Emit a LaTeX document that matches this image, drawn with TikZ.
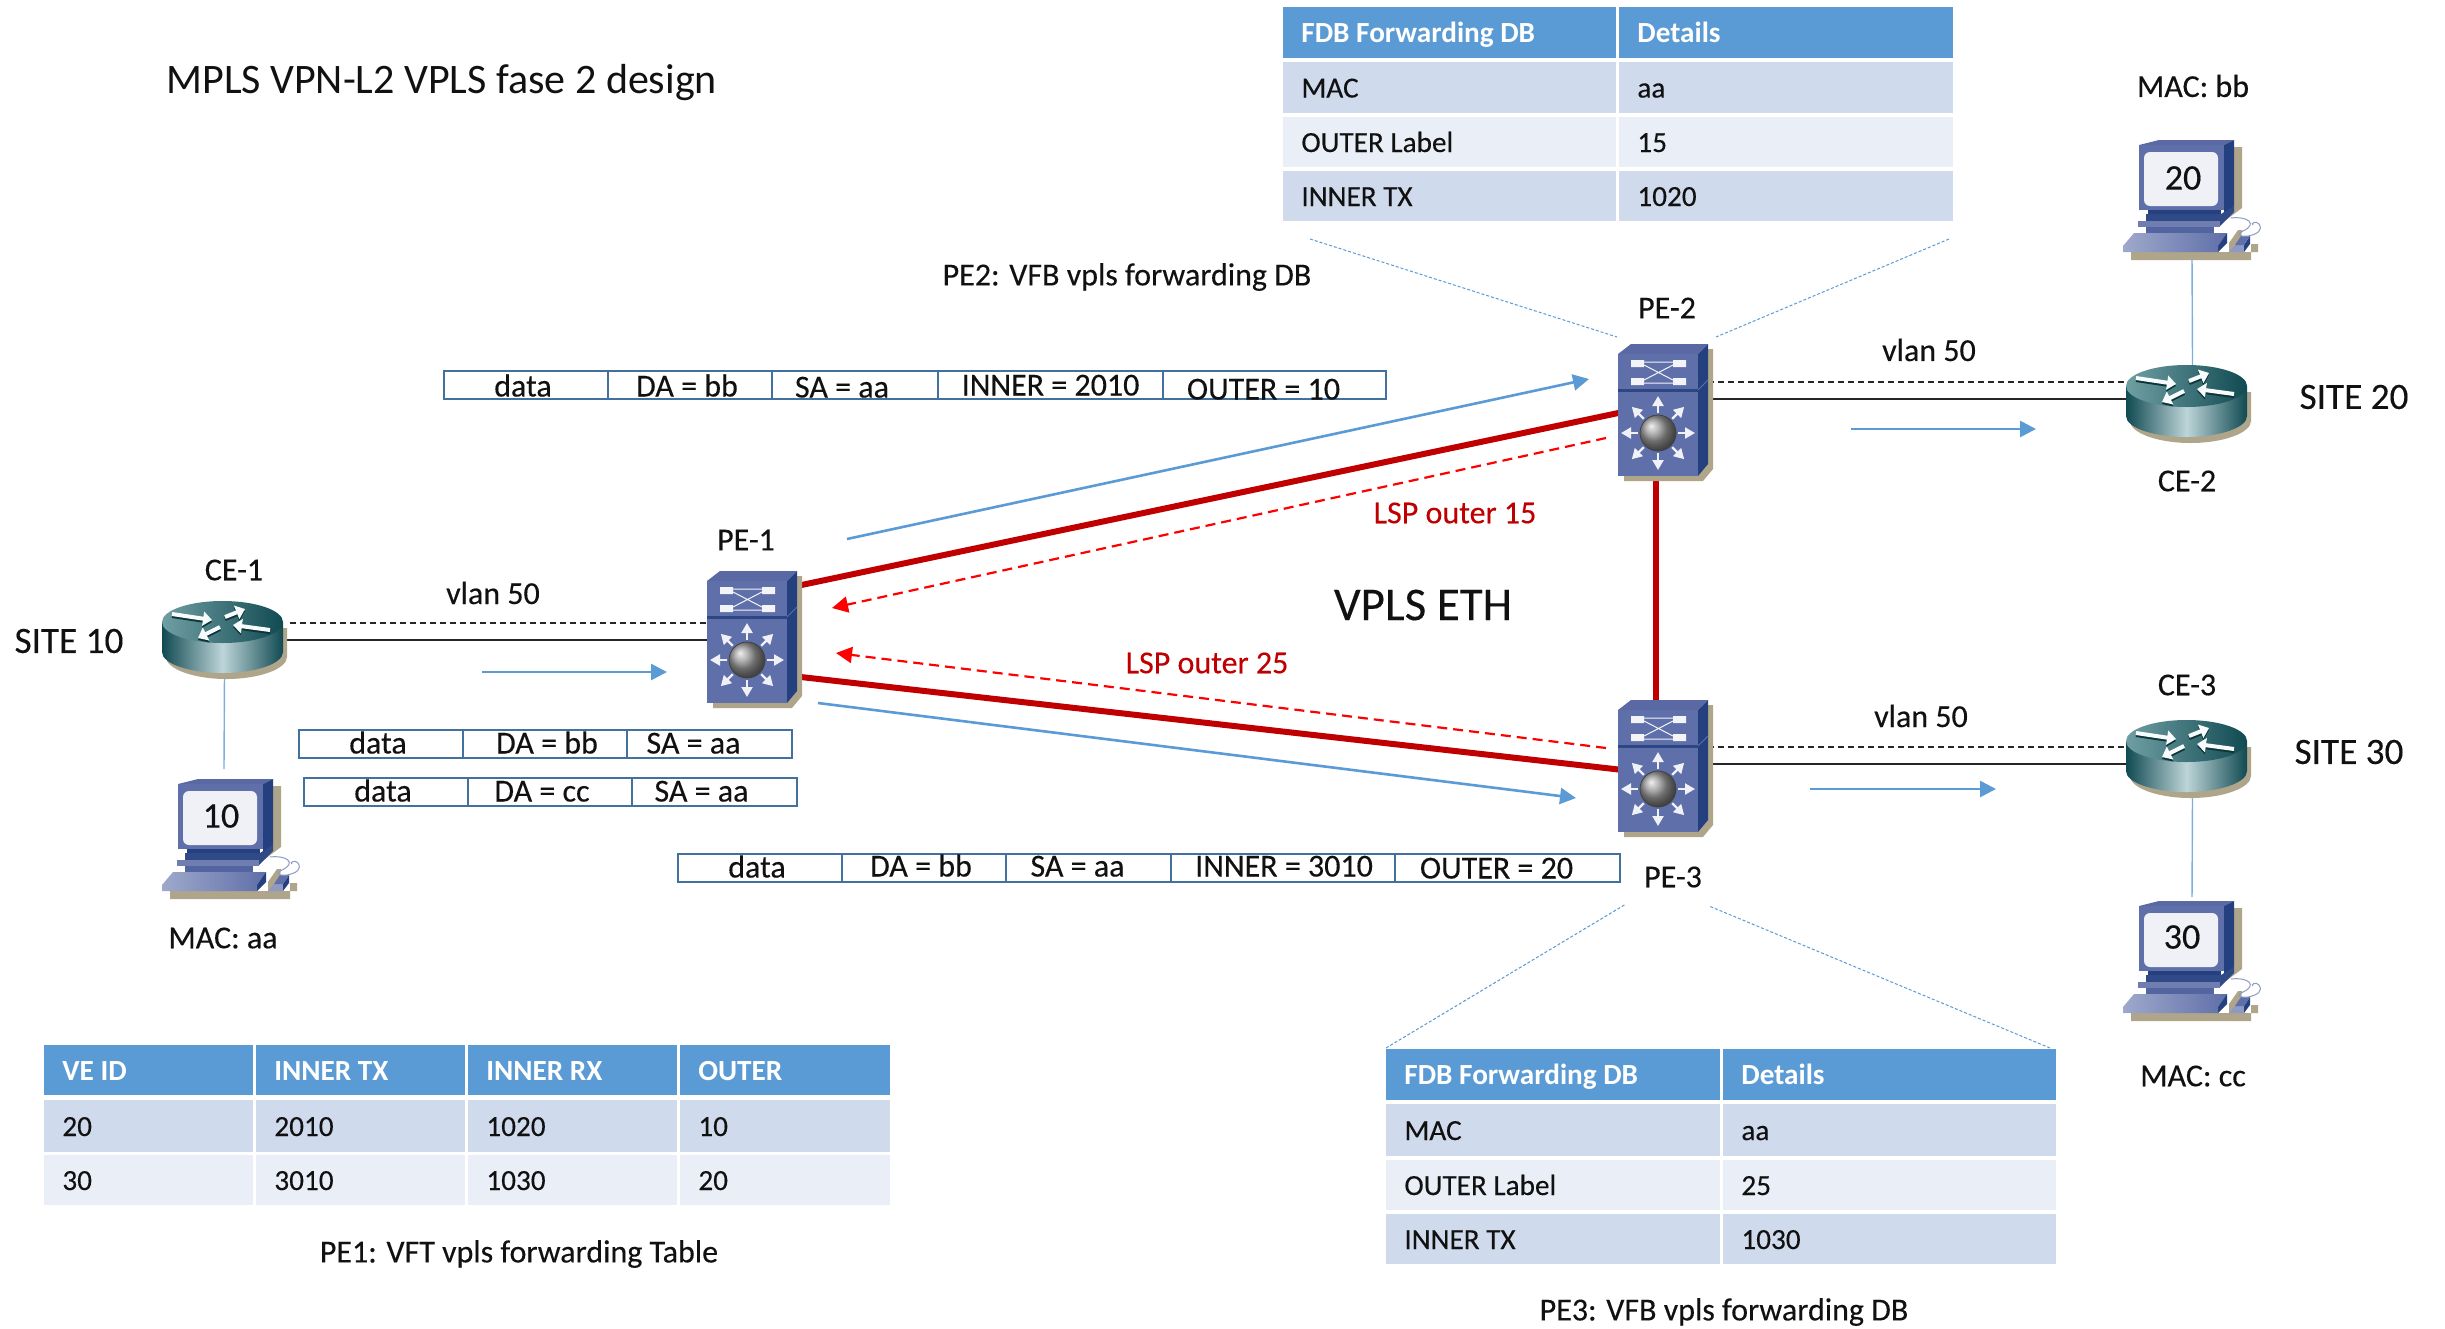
\documentclass[tikz,border=0pt]{standalone}
\usepackage{fontspec}
\setmainfont{Carlito}
\usetikzlibrary{arrows.meta,calc}
\newcommand{\heavy}{\addfontfeature{FakeBold=0.25}}
\definecolor{hdr}{HTML}{5B9BD5}
\definecolor{rowa}{HTML}{CFDAEC}
\definecolor{rowb}{HTML}{E9EEF7}
\definecolor{blu}{HTML}{5B9BD5}
\definecolor{pktc}{HTML}{41719C}
\definecolor{redl}{HTML}{C00000}
\definecolor{ink}{HTML}{111111}
\definecolor{tan}{HTML}{AFA58B}
\definecolor{swf}{HTML}{5F6FA9}
\definecolor{swt}{HTML}{5A68A4}
\definecolor{sws}{HTML}{24407F}
\definecolor{rdark}{HTML}{114A52}
\definecolor{rmid}{HTML}{BDD5D8}
\definecolor{rtop}{HTML}{6F9FA3}
\tikzset{
  devbox/.style={inner sep=0pt,outer sep=0pt},
  lbl/.style={font=\fontsize{16}{18}\selectfont\heavy,inner sep=0pt,text=ink,yshift=0.5pt},
  tbl/.style={font=\fontsize{14.6}{16}\selectfont\heavy,inner sep=0pt,text=ink,text height=10pt,text depth=3pt},
  tblh/.style={font=\fontsize{14.6}{16}\bfseries\selectfont,inner sep=0pt,text=white,text height=10pt,text depth=3pt},
  big/.style={font=\fontsize{23.5}{26}\selectfont\heavy,inner sep=0pt,text=ink},
  site/.style={font=\fontsize{18.6}{21}\selectfont\heavy,inner sep=0pt,text=ink,yshift=0.5pt},
  redt/.style={font=\fontsize{16}{18}\selectfont\heavy,inner sep=0pt,text=redl},
  pktline/.style={draw=pktc,line width=1pt},
  redlink/.style={draw=redl,line width=3pt},
  reddash/.style={draw=red,line width=1.1pt,dash pattern=on 5pt off 3pt,-{Triangle[length=8pt,width=8pt]}},
  bluarrow/.style={draw=blu,line width=1.3pt,-{Triangle[length=8pt,width=8pt]}},
  blackline/.style={draw=black!85,line width=.7pt},
  blackdash/.style={draw=black!85,line width=.7pt,dash pattern=on 3pt off 2pt},
  thinblue/.style={draw=blu!80,line width=.7pt},
  callout/.style={draw=blu,line width=.5pt,dash pattern=on 1.5pt off 1pt},
  switch art/.pic={
    \fill[tan] (90,5) -- (95,5) -- (95,125) -- (85,137) -- (6,137) -- (6,130) -- cycle;
    \fill[swt] (0,10) -- (13,0) -- (90,0) -- (80,10) -- cycle;
    \fill[sws] (80,10) -- (90,0) -- (90,120) -- (80,132) -- cycle;
    \draw[swf,line width=.5pt] (80,46) -- (90,36);
    \fill[swf] (0,10) rectangle (80,132);
    \fill[sws!85!swf] (0,45) rectangle (80,48);
    \fill[white!92!swf] (13,16) rectangle (26,23) (55,16) rectangle (68,23) (13,34) rectangle (26,41) (55,34) rectangle (68,41);
    \draw[white!92!swf,line width=.5pt] (26,18) -- (55,18) (26,39) -- (55,39) (26,21) -- (55,36) (26,36) -- (55,21);
    \foreach \a in {0,45,...,315}
      \draw[white!90!swf,line width=1.1pt,-{Triangle[length=5pt,width=5.5pt]}] ($(40,89)+(\a:20)$) -- ($(40,89)+(\a:37)$);
    \shadedraw[ball color=black!40,draw=black!75,line width=.4pt,yscale=-1] (40,-89) circle (18);
  },
  router art/.pic={
    \fill[tan] (4,27) -- (4,56) .. controls (4,67.6) and (31,78) .. (64.5,78) .. controls (98,78) and (125,67.6) .. (125,56) -- (125,27) -- cycle;
    \shade[left color=rdark,right color=rdark,middle color=rmid]
      (0,21) -- (0,51) .. controls (0,62.6) and (27,72) .. (60.5,72) .. controls (94,72) and (121,62.6) .. (121,51) -- (121,21) -- cycle;
    \shade[left color=rtop,right color=rdark] (60.5,21) ellipse [x radius=60.5,y radius=21];
    \foreach \xa/\ya/\xb/\yb in {10/13/50/19,63/16/83/8,58/26/36/37,108/29/71/24}{
      \draw[rdark!70!black,line width=2pt,-{Triangle[length=4.5pt,width=7pt]}] (\xa,\ya+2) -- (\xb,\yb+2);
      \draw[white!90!rmid,line width=2pt,-{Triangle[length=4.5pt,width=7pt]}] (\xa,\ya) -- (\xb,\yb);
    }
  },
  pc art/.pic={
    \fill[tan] (111,7) -- (119,7) -- (119,68) -- (103,80) -- (103,72) -- cycle;
    \fill[tan] (8,112) -- (106,112) -- (106,103) -- (115,90) -- (119,90) -- (115,120) -- (8,120) -- cycle;
    \fill[tan] (114,112) -- (135,112) -- (135,104) -- (128,104) -- (128,120) -- (115,120) -- cycle;
    \fill[swt] (16,5) -- (36,0) -- (111,0) -- (101,5) -- cycle;
    \fill[sws] (101,5) -- (111,0) -- (111,66) -- (101,74) -- cycle;
    \fill[swf] (16,5) rectangle (101,70);
    \fill[sws] (25,70) rectangle (98,74);
    \fill[sws!80!swf] (23,74) -- (98,74) -- (111,66) -- (111,72) -- (97,86) -- (23,86) -- cycle;
    \fill[swf!90!white] (15,81) rectangle (97,87);
    \fill[swf!80!sws] (23,87) -- (91,87) -- (91,94) -- (23,94) -- cycle;
    \fill[sws] (95,112) -- (104,103) -- (104,93) -- (95,100) -- cycle;
    \shade[left color=swf!60!white,right color=swf] (0,112) -- (0,106) -- (11,93) -- (104,93) -- (95,106) -- (95,112) -- cycle;
    \fill[swf!70!white] (106,112) -- (121,112) -- (121,105) -- (112,105) -- cycle;
    \fill[sws] (121,112) -- (127,104) -- (127,96) -- (121,105) -- cycle;
    \fill[swf] (112,105) -- (121,105) -- (127,96) -- (118,96) -- cycle;
    \draw[swf!70!white,line width=.5pt] (108,78) .. controls (125,76) and (135,84) .. (120,91) .. controls (112,95) and (118,97) .. (125,96) .. controls (135,94) and (140,90) .. (136,84) .. controls (133,80) and (127,84) .. (130,85);
    \fill[white!90!swf,rounded corners=3pt] (21,12) rectangle (95,66);
  },
}
\newcommand{\tcell}[7]{%
  \fill[#6] (#2,#3) rectangle (#4,#5);
  \node[#6 text,anchor=west] (#1) at (#2+18,{(#3+#5)/2+3}) {#7};}
\tikzset{hdr text/.style={tblh},rowa text/.style={tbl},rowb text/.style={tbl}}
% name, x1, y1, x2, y2, text x offset, text y offset, text
\newcommand{\pkt}[8]{%
  \draw[pktline] (#2,#3) rectangle (#4,#5);
  \node[lbl,text height=10.5pt,text depth=3pt] (#1) at ({(#2+#4)/2+#6},{(#3+#5)/2+#7+3}) {#8};}
\begin{document}
\begin{tikzpicture}[x=0.5pt,y=-0.5pt]
\useasboundingbox (0,0) rectangle (2445,1328);
\fill[white] (0,0) rectangle (2445,1328);
% device place-holders
\node[devbox,minimum width=45pt,minimum height=66pt] (pe1) at (752,637) {};
\node[devbox,minimum width=45pt,minimum height=66pt] (pe2) at (1663,410) {};
\node[devbox,minimum width=45pt,minimum height=66pt] (pe3) at (1663,766) {};
\node[devbox,minimum width=60.5pt,minimum height=36pt] (ce1) at (222.5,637) {};
\node[devbox,minimum width=60.5pt,minimum height=36pt] (ce2) at (2186.5,401) {};
\node[devbox,minimum width=60.5pt,minimum height=36pt] (ce3) at (2186.5,756) {};
\node[devbox,minimum width=70pt,minimum height=60pt] (pc10) at (232,839) {};
\node[devbox,minimum width=70pt,minimum height=60pt] (pc20) at (2193,200) {};
\node[devbox,minimum width=70pt,minimum height=60pt] (pc30) at (2193,961) {};
% connectors
\draw[redlink] ($(pe1.east)+(-5,-50)$) -- ($(pe2.west)+(5,2)$);
\draw[redlink] ($(pe1.east)+(-5,39)$) -- ($(pe3.west)+(5,4)$);
\draw[redlink] ($(pe2.south)+(-7,0)$) -- ($(pe3.north)+(-7,0)$);
\draw[bluarrow] ($(pe1.east)+(50,-98)$) -- ($(pe2.west)+(-29,-31)$);
\draw[bluarrow] ($(pe1.east)+(21,66)$) -- ($(pe3.west)+(-42,32)$);
\draw[reddash] ($(pe2.west)+(-12,28)$) -- ($(pe1.east)+(35,-29)$);
\draw[reddash] ($(pe3.west)+(-12,-18)$) -- ($(pe1.east)+(39,16)$);
\draw[blackdash] ($(ce1.east)+(7,-14)$) -- ($(pe1.west)+(0,-14)$);
\draw[blackline] ($(ce1.east)+(4,3)$) -- ($(pe1.west)+(0,3)$);
\draw[blackdash] ($(pe2.east)+(0,-28)$) -- ($(ce2.west)+(0,-19)$);
\draw[blackline] ($(pe2.east)+(0,-11)$) -- ($(ce2.west)+(0,-2)$);
\draw[blackdash] ($(pe3.east)+(0,-19)$) -- ($(ce3.west)+(0,-9)$);
\draw[blackline] ($(pe3.east)+(0,-2)$) -- ($(ce3.west)+(0,8)$);
\draw[thinblue] ($(ce1.south)+(2,0)$) -- ($(pc10.north)+(-8,-10)$);
\draw[thinblue] ($(ce2.north)+(6,0)$) -- ($(pc20.south)+(-1,0)$);
\draw[thinblue] ($(ce3.south)+(6,0)$) -- ($(pc30.north)+(-1,-4)$);
% free blue arrows
\coordinate (fa1) at (482,672); \coordinate (fa2) at (667,672);
\coordinate (fb1) at (1851,429); \coordinate (fb2) at (2036,429);
\coordinate (fc1) at (1810,789); \coordinate (fc2) at (1996,789);
\draw[bluarrow] (fa1) -- (fa2);
\draw[bluarrow] (fb1) -- (fb2);
\draw[bluarrow] (fc1) -- (fc2);
% callouts
\coordinate (ca1) at (1310,239); \coordinate (ca2) at (1949,239);
\coordinate (cb1) at (1386,1048); \coordinate (cb2) at (2050,1048);
\draw[callout] (ca1) -- ($(pe2.north)+(-46,-7)$);
\draw[callout] (ca2) -- ($(pe2.north)+(53,-7)$);
\draw[callout] (cb1) -- ($(pe3.south)+(-37,72)$);
\draw[callout] (cb2) -- ($(pe3.south)+(46,74)$);
% devices
\pic at (707,571) {switch art};
\pic at (1618,344) {switch art};
\pic at (1618,700) {switch art};
\pic at (162,601) {router art};
\pic at (2126,365) {router art};
\pic at (2126,720) {router art};
\pic at (162,779) {pc art};
\pic at (2123,140) {pc art};
\pic at (2123,901) {pc art};
\node[lbl] (t10) at (221,817) {\fontsize{18}{20}\selectfont\heavy 10};
\node[lbl] (t20) at (2183,179) {\fontsize{18}{20}\selectfont\heavy 20};
\node[lbl] (t30) at (2182,938) {\fontsize{18}{20}\selectfont\heavy 30};
% labels
\node[font=\fontsize{21}{24}\selectfont,inner sep=0pt,text=ink,anchor=west] (title) at (166,83) {MPLS VPN-L2 VPLS fase 2 design};
\node[lbl] (lce1) at (234,571) {CE-1};
\node[lbl] (lv1) at (493,594) {vlan 50};
\node[site] (s10) at (69,642) {SITE 10};
\node[lbl] (lpe1) at (746,541) {PE-1};
\node[lbl] (maca) at (223,939) {MAC: aa};
\node[lbl] (lpe2) at (1667,309) {PE-2};
\node[lbl] (lv2) at (1929,351) {vlan 50};
\node[site] (s20) at (2354,398) {SITE 20};
\node[lbl] (lce2) at (2187,482) {CE-2};
\node[lbl] (macb) at (2193,87) {MAC: bb};
\node[lbl] (pe2c) at (1127,278) {PE2: VFB vpls forwarding DB};
\node[redt] (lsp15) at (1455,513) {LSP outer 15};
\node[big] (vpls) at (1423,605) {VPLS ETH};
\node[redt] (lsp25) at (1207,663) {LSP outer 25};
\node[lbl] (lv3) at (1921,717) {vlan 50};
\node[lbl] (lce3) at (2187,686) {CE-3};
\node[site] (s30) at (2349,753) {SITE 30};
\node[lbl] (lpe3) at (1673,878) {PE-3};
\node[lbl] (macc) at (2193,1077) {MAC: cc};
\node[lbl] (pe1c) at (519,1255) {PE1: VFT vpls forwarding Table};
\node[lbl] (pe3c) at (1724,1313) {PE3: VFB vpls forwarding DB};
% packet rows
\pkt{pa1}{444}{371}{608}{399}{-3}{2}{data}
\pkt{pa2}{608}{371}{772}{399}{-3}{2}{DA = bb}
\pkt{pa3}{772}{371}{938}{399}{-13}{3}{SA = aa}
\pkt{pa4}{938}{371}{1163}{399}{0}{1}{INNER = 2010}
\pkt{pa5}{1163}{371}{1386}{399}{-11}{5}{OUTER = 10}
\pkt{pb1}{299}{730}{463}{758}{-3}{0}{data}
\pkt{pb2}{463}{730}{627}{758}{2}{0}{DA = bb}
\pkt{pb3}{627}{730}{792}{758}{-16}{0}{SA = aa}
\pkt{pc1}{304}{778}{468}{806}{-3}{0}{data}
\pkt{pc2}{468}{778}{632}{806}{-8}{0}{DA = cc}
\pkt{pc3}{632}{778}{797}{806}{-13}{0}{SA = aa}
\pkt{pd1}{678}{854}{842}{882}{-3}{0}{data}
\pkt{pd2}{842}{854}{1006}{882}{-3}{-1}{DA = bb}
\pkt{pd3}{1006}{854}{1171}{882}{-11}{-1}{SA = aa}
\pkt{pd4}{1171}{854}{1395}{882}{1}{-1}{INNER = 3010}
\pkt{pd5}{1395}{854}{1620}{882}{-11}{1}{OUTER = 20}
% table PE2
\tcell{ta1}{1283}{7}{1616}{58}{hdr}{FDB Forwarding DB}
\tcell{ta2}{1619}{7}{1953}{58}{hdr}{Details}
\tcell{ta3}{1283}{62}{1616}{113}{rowa}{MAC}
\tcell{ta4}{1619}{62}{1953}{113}{rowa}{aa}
\tcell{ta5}{1283}{117}{1616}{167}{rowb}{OUTER Label}
\tcell{ta6}{1619}{117}{1953}{167}{rowb}{15}
\tcell{ta7}{1283}{171}{1616}{221}{rowa}{INNER TX}
\tcell{ta8}{1619}{171}{1953}{221}{rowa}{1020}
% table PE3
\tcell{tb1}{1386}{1049}{1720}{1100}{hdr}{FDB Forwarding DB}
\tcell{tb2}{1723}{1049}{2056}{1100}{hdr}{Details}
\tcell{tb3}{1386}{1104}{1720}{1156}{rowa}{MAC}
\tcell{tb4}{1723}{1104}{2056}{1156}{rowa}{aa}
\tcell{tb5}{1386}{1160}{1720}{1210}{rowb}{OUTER Label}
\tcell{tb6}{1723}{1160}{2056}{1210}{rowb}{25}
\tcell{tb7}{1386}{1214}{1720}{1264}{rowa}{INNER TX}
\tcell{tb8}{1723}{1214}{2056}{1264}{rowa}{1030}
% table PE1
\tcell{tc1}{44}{1045}{253}{1095}{hdr}{VE ID}
\tcell{tc2}{256}{1045}{465}{1095}{hdr}{INNER TX}
\tcell{tc3}{468}{1045}{677}{1095}{hdr}{INNER RX}
\tcell{tc4}{680}{1045}{890}{1095}{hdr}{OUTER}
\tcell{tc5}{44}{1100}{253}{1152}{rowa}{20}
\tcell{tc6}{256}{1100}{465}{1152}{rowa}{2010}
\tcell{tc7}{468}{1100}{677}{1152}{rowa}{1020}
\tcell{tc8}{680}{1100}{890}{1152}{rowa}{10}
\tcell{tc9}{44}{1155}{253}{1205}{rowb}{30}
\tcell{tc10}{256}{1155}{465}{1205}{rowb}{3010}
\tcell{tc11}{468}{1155}{677}{1205}{rowb}{1030}
\tcell{tc12}{680}{1155}{890}{1205}{rowb}{20}
\end{tikzpicture}
\end{document}
